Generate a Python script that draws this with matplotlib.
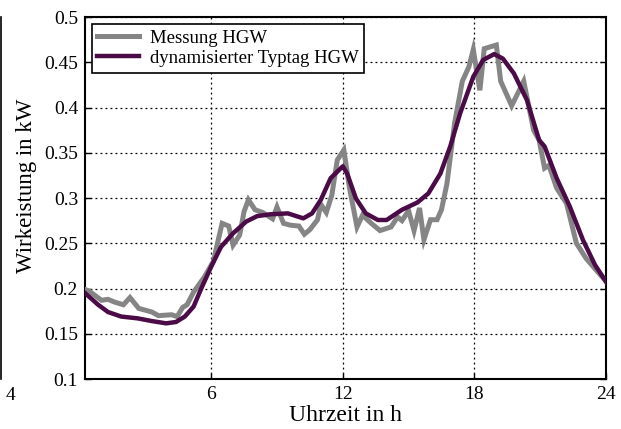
import matplotlib
matplotlib.use("Agg")
import matplotlib.pyplot as plt
from matplotlib.lines import Line2D

# Measured profile (hours, kW)
mess_h = [0.25, 0.45, 1.0, 1.3, 1.6, 2.0, 2.3, 2.7, 3.3, 3.6, 4.2, 4.45, 4.7, 4.9,
          5.2, 5.7, 6.1, 6.5, 6.8, 7.0, 7.3, 7.5, 7.7, 8.0, 8.35, 8.8, 9.0, 9.3,
          9.6, 10.0, 10.25, 10.5, 10.85, 11.0, 11.25, 11.5, 11.75, 12.05, 12.3,
          12.65, 12.9, 13.3, 13.7, 14.2, 14.5, 14.7, 15.0, 15.25, 15.5, 15.7,
          16.0, 16.3, 16.5, 16.75, 17.1, 17.45, 17.75, 17.95, 18.25, 18.45, 19.0,
          19.2, 19.7, 20.25, 20.7, 20.95, 21.2, 21.4, 21.75, 22.2, 22.65, 23.1,
          23.6, 24.0]
mess_v = [0.199, 0.197, 0.187, 0.188, 0.185, 0.182, 0.190, 0.178, 0.174, 0.170,
          0.171, 0.169, 0.179, 0.182, 0.196, 0.213, 0.230, 0.272, 0.269, 0.248,
          0.259, 0.285, 0.298, 0.287, 0.284, 0.277, 0.290, 0.272, 0.270, 0.269,
          0.260, 0.265, 0.276, 0.293, 0.284, 0.303, 0.342, 0.353, 0.312, 0.268,
          0.281, 0.272, 0.264, 0.268, 0.279, 0.275, 0.286, 0.264, 0.289, 0.254,
          0.276, 0.276, 0.287, 0.316, 0.383, 0.429, 0.445, 0.464, 0.419, 0.465,
          0.469, 0.429, 0.402, 0.429, 0.375, 0.364, 0.333, 0.336, 0.311, 0.294,
          0.250, 0.233, 0.219, 0.208]

# Dynamic typical day (hours, kW)
typ_h = [0.25, 0.85, 1.3, 1.9, 2.65, 3.3, 3.95, 4.4, 4.8, 5.2, 5.55, 6.0, 6.45,
         7.0, 7.6, 8.1, 8.7, 9.5, 10.2, 10.6, 11.0, 11.45, 12.0, 12.2, 12.6,
         13.05, 13.6, 14.0, 14.7, 15.4, 15.9, 16.45, 16.9, 17.35, 17.95, 18.4,
         18.9, 19.3, 19.8, 20.4, 20.95, 21.2, 21.75, 22.35, 22.95, 23.5, 24.0]
typ_v = [0.195, 0.182, 0.174, 0.169, 0.167, 0.164, 0.1615, 0.163, 0.169, 0.180,
         0.200, 0.224, 0.246, 0.261, 0.274, 0.280, 0.282, 0.283, 0.2775, 0.283,
         0.298, 0.322, 0.335, 0.327, 0.2995, 0.283, 0.2757, 0.2757, 0.287, 0.295,
         0.305, 0.327, 0.357, 0.3935, 0.434, 0.4525, 0.459, 0.454, 0.4377, 0.408,
         0.364, 0.357, 0.322, 0.2905, 0.2536, 0.226, 0.2075]

x_ticks = [6, 12, 18, 24]
y_ticks = [0.1, 0.15, 0.2, 0.25, 0.3, 0.35, 0.4, 0.45, 0.5]
y_ticklabels = ["0.1", "0.15", "0.2", "0.25", "0.3", "0.35", "0.4", "0.45", "0.5"]

plt.rcParams['font.family'] = ['Liberation Serif', 'DejaVu Serif']

W, H = 621, 429
fig = plt.figure(figsize=(W / 100, H / 100), dpi=100)
ax = fig.add_axes([85 / W, (H - 379) / H, (606 - 85) / W, (379 - 17) / H])

ax.plot(mess_h, mess_v, color='#858585', lw=3.6, label='Messung HGW',
        solid_joinstyle='miter', zorder=3)
ax.plot(typ_h, typ_v, color='#4a0b46', lw=3.2, label='dynamisierter Typtag HGW',
        zorder=4)

ax.set_xlim(0.25, 24)
ax.set_ylim(0.1, 0.5)
ax.set_xticks(x_ticks)
ax.set_xticklabels([str(t) for t in x_ticks])
ax.set_yticks(y_ticks)
ax.set_yticklabels(y_ticklabels)
ax.tick_params(axis='both', direction='in', labelsize=14, length=4, width=1,
               right=True, top=False)
ax.tick_params(axis='y', pad=5)
ax.tick_params(axis='x', pad=5)
ax.grid(True, color='black', linestyle=(0, (1.5, 2.5)), linewidth=0.9)
for s in ax.spines.values():
    s.set_linewidth(1.5)

ax.set_xlabel('Uhrzeit in h', fontsize=17)
ax.set_ylabel('Wirkeistung in kW', fontsize=16.5)
ax.xaxis.set_label_coords(0.5, -0.072)
ax.yaxis.set_label_coords(-0.092, 0.535)

leg = ax.legend(loc='upper left', bbox_to_anchor=(0.013, 0.98), fontsize=13.5,
                frameon=True, fancybox=False, edgecolor='black', framealpha=1,
                handlelength=2.2, borderpad=0.3, labelspacing=0.15,
                handletextpad=0.6, borderaxespad=0)
leg.get_frame().set_linewidth(1.2)

# Remnant of neighbouring panel on the left edge
fig.add_artist(Line2D([1.2 / W, 1.2 / W], [(H - 379) / H, (H - 17) / H],
                      color='black', lw=1.2, transform=fig.transFigure))
fig.text(6 / W, (H - 396) / H, '4', fontsize=14, ha='left', va='center')

fig.savefig('out.png', dpi=100)
